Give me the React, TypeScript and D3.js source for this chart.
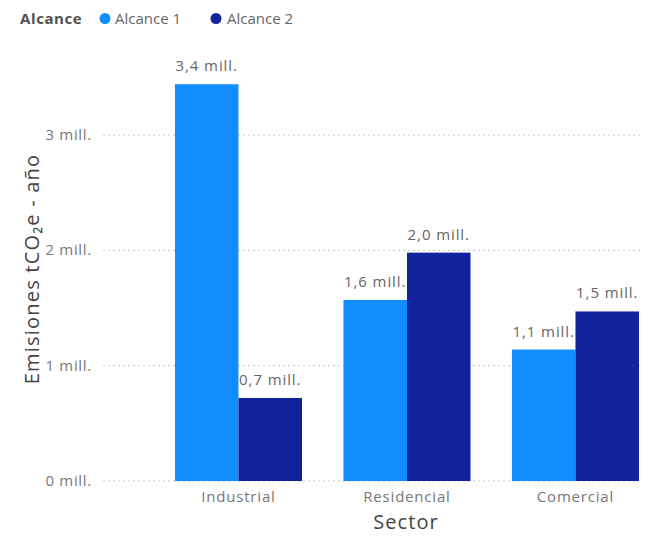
import React from "react";
import * as d3 from "d3";

const categories = ["Industrial", "Residencial", "Comercial"];
const seriesNames = ["Alcance 1", "Alcance 2"];
const alcance1 = [3.44, 1.57, 1.14];
const alcance2 = [0.72, 1.98, 1.47];
const yTicks = [0, 1, 2, 3];
const colors = ["#118DFF", "#12239E"];

const W = 649;
const H = 536;
const FONT = "'Segoe UI', 'Open Sans', 'Noto Sans', sans-serif";

const fmt = (v: number) => v.toFixed(1).replace(".", ",") + " mill.";

export default function App() {
  const x = d3
    .scaleBand<string>()
    .domain(categories)
    .range([103, 639])
    .paddingInner(0.246)
    .paddingOuter(0.2135)
    .align(1);
  const xs = d3.scaleBand<string>().domain(seriesNames).range([0, x.bandwidth()]);
  const y = d3.scaleLinear().domain([0, 3]).range([481, 135]);

  const series = [alcance1, alcance2];

  return (
    <svg
      width={W}
      height={H}
      style={{ position: "absolute", left: 0, top: 0, background: "#fff" }}
      fontFamily={FONT}
    >
      {/* legend */}
      <g>
        <text x={20} y={24} fontSize={15} fontWeight="bold" fill="#505050" letterSpacing={0.6}>
          Alcance
        </text>
        <circle cx={105} cy={18.5} r={5.5} fill={colors[0]} />
        <text x={115} y={24} fontSize={15} fill="#666">
          {seriesNames[0]}
        </text>
        <circle cx={216} cy={18.5} r={5.5} fill={colors[1]} />
        <text x={227} y={24} fontSize={15} fill="#666">
          {seriesNames[1]}
        </text>
      </g>

      {/* grid + y ticks */}
      {yTicks.map((t) => (
        <g key={t}>
          <line
            x1={103}
            x2={640}
            y1={y(t)}
            y2={y(t)}
            stroke="#c8c8c8"
            strokeDasharray="2,3"
            strokeWidth={1}
          />
          <text
            x={92}
            y={y(t) + 5}
            fontSize={15}
            fill="#777"
            textAnchor="end"
            letterSpacing={0.7}
          >
            {t} mill.
          </text>
        </g>
      ))}

      {/* bars */}
      {categories.map((c, i) => (
        <g key={c} transform={`translate(${x(c)},0)`}>
          {series.map((s, j) => (
            <rect
              key={j}
              x={xs(seriesNames[j])}
              y={y(s[i])}
              width={xs.bandwidth()}
              height={y(0) - y(s[i])}
              fill={colors[j]}
            />
          ))}
          {series.map((s, j) => (
            <text
              key={"l" + j}
              x={(xs(seriesNames[j]) as number) + xs.bandwidth() / 2}
              y={y(s[i]) - 13}
              fontSize={15}
              fill="#666"
              textAnchor="middle"
              letterSpacing={0.9}
            >
              {fmt(s[i])}
            </text>
          ))}
          <text
            x={x.bandwidth() / 2}
            y={502}
            fontSize={15}
            fill="#777"
            textAnchor="middle"
            letterSpacing={0.8}
          >
            {c}
          </text>
        </g>
      ))}

      {/* axis titles */}
      <text
        x={406}
        y={529}
        fontSize={20}
        fill="#444"
        textAnchor="middle"
        letterSpacing={1.1}
      >
        Sector
      </text>
      <text
        transform="translate(39,269) rotate(-90)"
        fontSize={20}
        fill="#444"
        textAnchor="middle"
        letterSpacing={1.2}
      >
        Emisiones tCO₂e - año
      </text>
    </svg>
  );
}
